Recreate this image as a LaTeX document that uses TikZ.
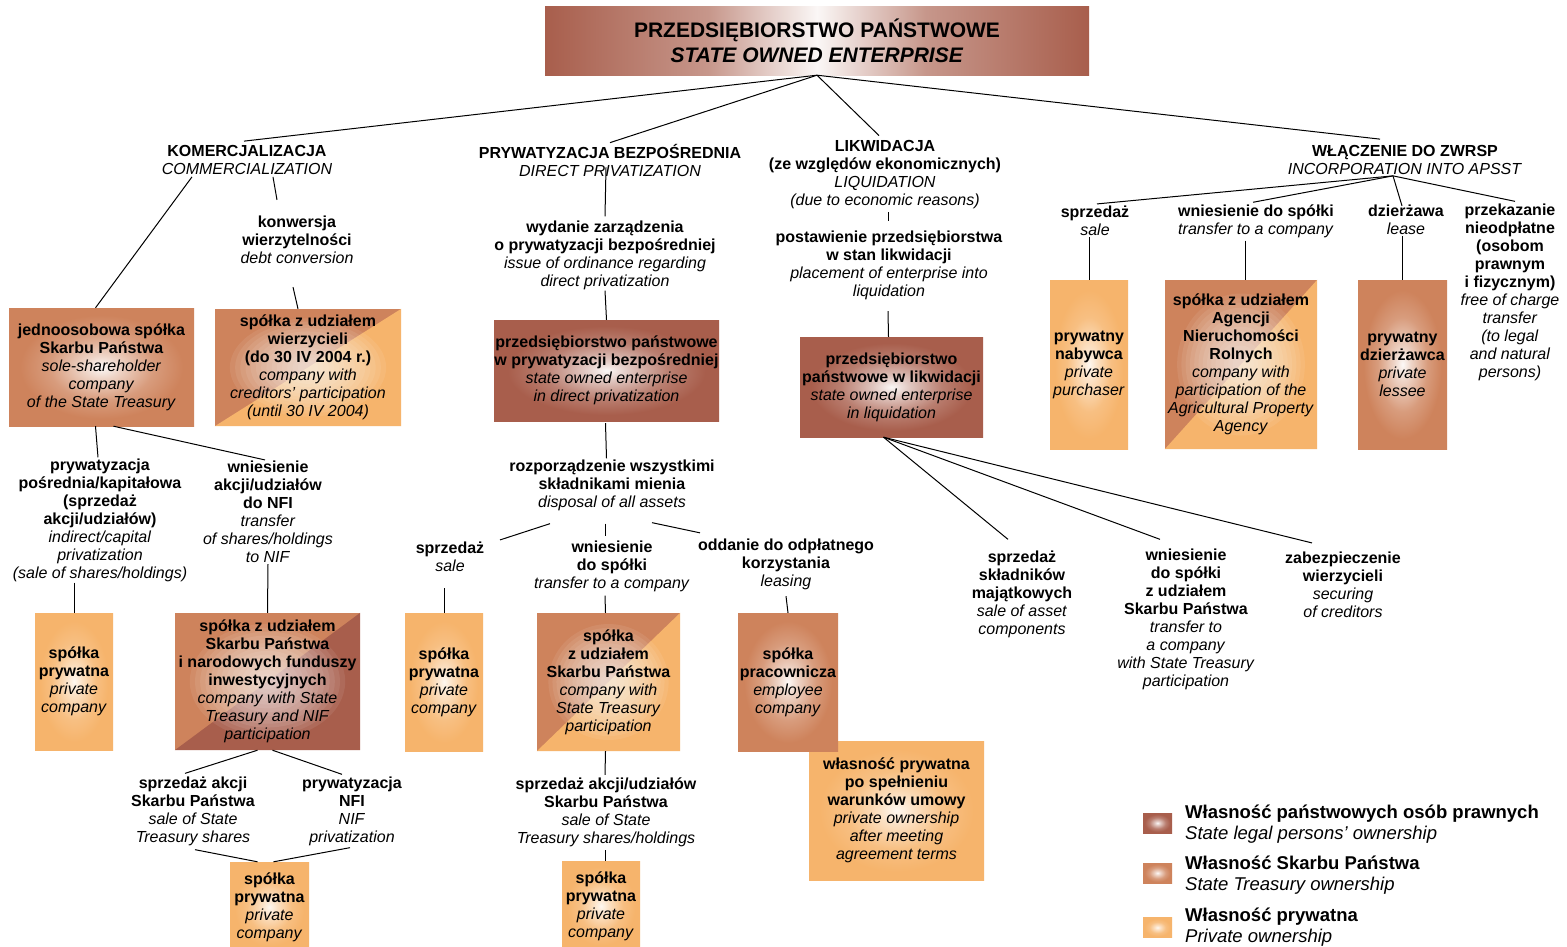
\documentclass[tikz,border=0pt]{standalone}
\usepackage{fontspec}
\setmainfont{Liberation Sans}
\usetikzlibrary{calc}
\definecolor{legal}{RGB}{168,94,76}
\definecolor{treasury}{RGB}{206,131,92}
\definecolor{private}{RGB}{246,180,108}
\pgfdeclareradialshading{glowlegal}{\pgfpoint{0bp}{0bp}}{color(0bp)=(legal!5!white); color(5bp)=(legal!35!white); color(14bp)=(legal!80!white); color(22bp)=(legal); color(50bp)=(legal)}
\pgfdeclareradialshading{glowtreasury}{\pgfpoint{0bp}{0bp}}{color(0bp)=(treasury!5!white); color(5bp)=(treasury!35!white); color(14bp)=(treasury!80!white); color(22bp)=(treasury); color(50bp)=(treasury)}
\pgfdeclareradialshading{glowprivate}{\pgfpoint{0bp}{0bp}}{color(0bp)=(private!10!white); color(5bp)=(private!40!white); color(14bp)=(private!85!white); color(22bp)=(private); color(50bp)=(private)}
\pgfdeclarehorizontalshading{titleshade}{100bp}{color(0bp)=(legal); color(25bp)=(legal); color(40bp)=(legal!65!white); color(50bp)=(legal!5!white); color(60bp)=(legal!65!white); color(75bp)=(legal); color(100bp)=(legal)}
\tikzset{
  lbl/.style={align=center, inner sep=1pt, font=\fontsize{16}{18}\selectfont},
  legtxt/.style={align=left, anchor=west, inner sep=0pt, font=\fontsize{18.5}{21}\selectfont},
  sz/.style 2 args={minimum width=#1pt, minimum height=#2pt},
  gbox/.style={align=center, inner sep=0pt, font=\fontsize{16}{18}\selectfont, shade, shading=glow#1},
  sbox/.style={align=center, inner sep=0pt, font=\fontsize{16}{18}\selectfont},
  conn/.style={draw=black, line width=1pt}
}
\newcommand{\bx}[1]{\textbf{#1}}
\newcommand{\ix}[1]{\textit{#1}}
% #1 name, #2 centre, #3 width, #4 height, #5 colour upper-left, #6 colour lower-right
\newcommand{\splitfill}[6]{%
  \node[fill=#5, inner sep=0pt, sz={#3}{#4}] (#1-ul) at #2 {};
  \fill[#6] (#1-ul.north east) -- (#1-ul.south east) -- (#1-ul.south west) -- cycle;
  \foreach \k in {0,...,13} {
    \fill[white, fill opacity=0.08] (#1-ul.center) ellipse ({#3*(0.42-0.028*\k)} and {#4*(0.42-0.028*\k)});
  }}
\begin{document}
\begin{tikzpicture}[x=1pt,y=-1pt]
\useasboundingbox (0,0) rectangle (1567,946);
\fill[white] (0,0) rectangle (1567,946);

% title
\node[sz={544}{69}, shade, shading=titleshade, align=center, inner sep=0pt, font=\fontsize{21}{25}\selectfont] (title) at (817,40.5)
  {\bx{PRZEDSIĘBIORSTWO PAŃSTWOWE}\\\textbf{\textit{STATE OWNED ENTERPRISE}}};

% level 1
\node[lbl] (kom) at (247,160) {\bx{KOMERCJALIZACJA}\\\ix{COMMERCIALIZATION}};
\node[lbl] (dbp) at (610,160) {\bx{PRYWATYZACJA BEZPOŚREDNIA}\\\ix{DIRECT PRIVATIZATION}};
\node[lbl] (lik) at (885,175) {\bx{LIKWIDACJA}\\\bx{(ze względów ekonomicznych)}\\\ix{LIQUIDATION}\\\ix{(due to economic reasons)}};
\node[lbl] (wl) at (1405,160) {\bx{WŁĄCZENIE DO ZWRSP}\\\ix{INCORPORATION INTO APSST}};

% commercialization branch
\node[lbl] (konw) at (297,240) {\bx{konwersja}\\\bx{wierzytelności}\\\ix{debt conversion}};
\node[gbox=treasury, sz={185}{118}] (jedno) at (101.5,367) {\bx{jednoosobowa spółka}\\\bx{Skarbu Państwa}\\\ix{sole-shareholder}\\\ix{company}\\\ix{of the State Treasury}};
\splitfill{wierz}{(308,367.5)}{186}{117}{treasury}{private}
\node[sbox, sz={186}{117}] (wierz) at (308,367.5) {\bx{spółka z udziałem}\\\bx{wierzycieli}\\\bx{(do 30 IV 2004 r.)}\\\ix{company with}\\\ix{creditors' participation}\\\ix{(until 30 IV 2004)}};
\node[lbl] (pryw) at (100,520) {\bx{prywatyzacja}\\\bx{pośrednia/kapitałowa}\\\bx{(sprzedaż}\\\bx{akcji/udziałów)}\\\ix{indirect/capital}\\\ix{privatization}\\\ix{(sale of shares/holdings)}};
\node[lbl] (wnies) at (268,512) {\bx{wniesienie}\\\bx{akcji/udziałów}\\\bx{do NFI}\\\ix{transfer}\\\ix{of shares/holdings}\\\ix{to NIF}};
\node[gbox=private, sz={78}{137}] (ppriv1) at (74,681.5) {\bx{spółka}\\\bx{prywatna}\\\ix{private}\\\ix{company}};
\splitfill{nif}{(267.5,681.5)}{185}{137}{treasury}{legal}
\node[sbox, sz={185}{137}] (nif) at (267.5,681.5) {\bx{spółka z udziałem}\\\bx{Skarbu Państwa}\\\bx{i narodowych funduszy}\\\bx{inwestycyjnych}\\\ix{company with State}\\\ix{Treasury and NIF}\\\ix{participation}};
\node[lbl] (sakcji) at (193,811) {\bx{sprzedaż akcji}\\\bx{Skarbu Państwa}\\\ix{sale of State}\\\ix{Treasury shares}};
\node[lbl] (pnfi) at (352,811) {\bx{prywatyzacja}\\\bx{NFI}\\\ix{NIF}\\\ix{privatization}};
\node[gbox=private, sz={79}{90}] (ppriv2) at (269.5,907) {\bx{spółka}\\\bx{prywatna}\\\ix{private}\\\ix{company}};

% direct privatization branch
\node[lbl] (ord) at (605,255) {\bx{wydanie zarządzenia}\\\bx{o prywatyzacji bezpośredniej}\\\ix{issue of ordinance regarding}\\\ix{direct privatization}};
\node[gbox=legal, sz={225}{101}] (pdp) at (606.5,370.5) {\bx{przedsiębiorstwo państwowe}\\\bx{w prywatyzacji bezpośredniej}\\\ix{state owned enterprise}\\\ix{in direct privatization}};
\node[lbl] (rozp) at (612,485) {\bx{rozporządzenie wszystkimi}\\\bx{składnikami mienia}\\\ix{disposal of all assets}};
\node[lbl] (sale2) at (450,557) {\bx{sprzedaż}\\\ix{sale}};
\node[lbl] (wn2) at (612,566) {\bx{wniesienie}\\\bx{do spółki}\\\ix{transfer to a company}};
\node[lbl] (odd) at (786,564.5) {\bx{oddanie do odpłatnego}\\\bx{korzystania}\\\ix{leasing}};
\node[gbox=private, sz={78}{138}] (ppriv3) at (444,682) {\bx{spółka}\\\bx{prywatna}\\\ix{private}\\\ix{company}};
\splitfill{zus}{(608.5,682)}{143}{138}{treasury}{private}
\node[sbox, sz={143}{138}] (zus) at (608.5,682) {\bx{spółka}\\\bx{z udziałem}\\\bx{Skarbu Państwa}\\\ix{company with}\\\ix{State Treasury}\\\ix{participation}};
\node[gbox=private, sz={175}{139}] (wlpr) at (896.5,810.5) {\bx{własność prywatna}\\\bx{po spełnieniu}\\\bx{warunków umowy}\\\ix{private ownership}\\\ix{after meeting}\\\ix{agreement terms}};
\node[gbox=treasury, sz={100}{138}] (prac) at (788,682) {\bx{spółka}\\\bx{pracownicza}\\\ix{employee}\\\ix{company}};
\node[lbl] (sakcji2) at (606,812.5) {\bx{sprzedaż akcji/udziałów}\\\bx{Skarbu Państwa}\\\ix{sale of State}\\\ix{Treasury shares/holdings}};
\node[gbox=private, sz={78}{90}] (ppriv4) at (601,906) {\bx{spółka}\\\bx{prywatna}\\\ix{private}\\\ix{company}};

% liquidation branch
\node[lbl] (plac) at (889,265.5) {\bx{postawienie przedsiębiorstwa}\\\bx{w stan likwidacji}\\\ix{placement of enterprise into}\\\ix{liquidation}};
\node[gbox=legal, sz={183}{100}] (pwl) at (891.5,387) {\bx{przedsiębiorstwo}\\\bx{państwowe w likwidacji}\\\ix{state owned enterprise}\\\ix{in liquidation}};
\node[lbl] (ssk) at (1022,594) {\bx{sprzedaż}\\\bx{składników}\\\bx{majątkowych}\\\ix{sale of asset}\\\ix{components}};
\node[lbl] (wdsp) at (1186,619) {\bx{wniesienie}\\\bx{do spółki}\\\bx{z udziałem}\\\bx{Skarbu Państwa}\\\ix{transfer to}\\\ix{a company}\\\ix{with State Treasury}\\\ix{participation}};
\node[lbl] (zab) at (1343,585) {\bx{zabezpieczenie}\\\bx{wierzycieli}\\\ix{securing}\\\ix{of creditors}};

% incorporation branch
\node[lbl] (sale4) at (1095,221) {\bx{sprzedaż}\\\ix{sale}};
\node[lbl] (wn4) at (1256,221) {\bx{wniesienie do spółki}\\\ix{transfer to a company}};
\node[lbl] (dz) at (1406,220) {\bx{dzierżawa}\\\ix{lease}};
\node[lbl] (prz) at (1510,292) {\bx{przekazanie}\\\bx{nieodpłatne}\\\bx{(osobom}\\\bx{prawnym}\\\bx{i fizycznym)}\\\ix{free of charge}\\\ix{transfer}\\\ix{(to legal}\\\ix{and natural}\\\ix{persons)}};
\node[gbox=private, sz={78}{169}] (pnab) at (1089,364.5) {\bx{prywatny}\\\bx{nabywca}\\\ix{private}\\\ix{purchaser}};
\splitfill{anr}{(1241,364.5)}{152}{169}{treasury}{private}
\node[sbox, sz={152}{169}] (anr) at (1241,364.5) {\bx{spółka z udziałem}\\\bx{Agencji}\\\bx{Nieruchomości}\\\bx{Rolnych}\\\ix{company with}\\\ix{participation of the}\\\ix{Agricultural Property}\\\ix{Agency}};
\node[gbox=treasury, sz={89}{169}] (pdz) at (1402.5,364.5) {\bx{prywatny}\\\bx{dzierżawca}\\\ix{private}\\\ix{lessee}};

% legend
\node[gbox=legal, sz={29}{20}] (lg1) at (1157.5,823) {};
\node[gbox=treasury, sz={29}{20}] (lg2) at (1157.5,873) {};
\node[gbox=private, sz={29}{20}] (lg3) at (1157.5,927.5) {};
\node[legtxt] (lt1) at (1185,824) {\bx{Własność państwowych osób prawnych}\\\ix{State legal persons' ownership}};
\node[legtxt] (lt2) at (1185,875) {\bx{Własność Skarbu Państwa}\\\ix{State Treasury ownership}};
\node[legtxt] (lt3) at (1185,927) {\bx{Własność prywatna}\\\ix{Private ownership}};

% connectors: title
\draw[conn] (title.south) -- ($(kom.north)+(-3,-3)$);
\draw[conn] (title.south) -- (dbp.north);
\draw[conn] (title.south) -- ($(lik.north)+(-6,-4)$);
\draw[conn] (title.south) -- ($(wl.north)+(-25,-5)$);

% commercialization
\draw[conn] ($(kom.south)+(-55,1)$) -- ($(jedno.north)+(-6,0)$);
\draw[conn] ($(kom.south)+(26,1)$) -- ($(konw.north)+(-20,-15)$);
\draw[conn] ($(konw.south)+(-4,22)$) -- ($(wierz.north)+(-10,0)$);
\draw[conn] ($(jedno.south)+(-6,0)$) -- ($(pryw.north)+(-2,0)$);
\draw[conn] ($(jedno.south)+(12,0)$) -- ($(wnies.north)+(-3,0)$);
\draw[conn] (ppriv1.north |- pryw.south) -- (ppriv1.north);
\draw[conn] (wnies.south) -- (nif.north);
\draw[conn] ($(nif.south)+(-10,0)$) -- ($(sakcji.north)+(-8,-2)$);
\draw[conn] ($(nif.south)+(5,0)$) -- ($(pnfi.north)+(-10,-1)$);
\draw[conn] ($(sakcji.south)+(2,3)$) -- ($(ppriv2.north)+(-12,0)$);
\draw[conn] ($(pnfi.south)+(-2,1)$) -- ($(ppriv2.north)+(4,0)$);

% direct privatization
\draw[conn] ($(dbp.south)+(-4,-10)$) -- ($(ord.north)+(0,-3)$);
\draw[conn] (ord.south) -- (pdp.north);
\draw[conn] ($(pdp.south)+(-1,2)$) -- (pdp.south |- rozp.north);
\draw[conn] ($(rozp.south)+(-62,12)$) -- ($(sale2.north)+(50,-1)$);
\draw[conn] ($(rozp.south)+(-7,12)$) -- ($(wn2.north)+(-7,-3)$);
\draw[conn] ($(rozp.south)+(40,11)$) -- ($(odd.north)+(-86,-5)$);
\draw[conn] ($(ppriv3.north |- sale2.south)+(0,15)$) -- (ppriv3.north);
\draw[conn] ($(wn2.south)+(-7,3)$) -- ($(zus.north)+(-3,0)$);
\draw[conn] ($(odd.south)+(0,5)$) -- (prac.north);
\draw[conn] ($(zus.south)+(-3,0)$) -- ($(sakcji2.north)+(-1,-2)$);
\draw[conn] ($(sakcji2.south)+(-1,2)$) -- ($(ppriv4.north)+(4,0)$);

% liquidation
\draw[conn] ($(lik.south)+(3,2)$) -- ($(plac.north)+(-1,-9)$);
\draw[conn] ($(plac.south)+(-1,10)$) -- ($(pwl.north)+(-3,0)$);
\draw[conn] ($(pwl.south)+(-8,0)$) -- ($(ssk.north)+(-14,-10)$);
\draw[conn] ($(pwl.south)+(-8,0)$) -- ($(wdsp.north)+(-26,-8)$);
\draw[conn] ($(pwl.south)+(-8,0)$) -- ($(zab.north)+(-31,-8)$);

% incorporation
\draw[conn] ($(wl.south)+(-12,0)$) -- ($(sale4.north)+(2,-1)$);
\draw[conn] ($(wl.south)+(-12,0)$) -- ($(wn4.north)+(-3,-1)$);
\draw[conn] ($(wl.south)+(-12,0)$) -- ($(dz.north)+(-4,2)$);
\draw[conn] ($(wl.south)+(-12,0)$) -- ($(prz.north)+(5,-1)$);
\draw[conn] (pnab.north |- sale4.south) -- (pnab.north);
\draw[conn] ($(wn4.south)+(-11,2)$) -- ($(anr.north)+(4,0)$);
\draw[conn] (pdz.north |- dz.south) -- (pdz.north);
\end{tikzpicture}
\end{document}
